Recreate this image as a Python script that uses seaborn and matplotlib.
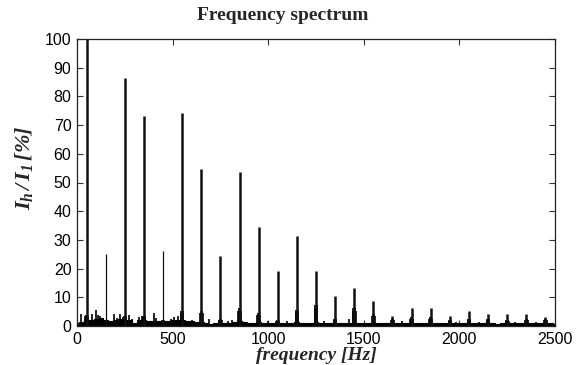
import numpy as np
import pandas as pd
import matplotlib
matplotlib.use("Agg")
import matplotlib.pyplot as plt
import seaborn as sns

# ---- data ----
harm_freq = [50, 150, 250, 350, 450, 550, 650, 750, 850, 950, 1050, 1150, 1250,
             1350, 1450, 1550, 1650, 1750, 1850, 1950, 2050, 2150, 2250, 2350, 2450]
harm_amp = [100, 25, 86.5, 73.3, 26, 74.1, 54.6, 24.5, 53.7, 34.4, 19.0, 31.5, 19.0,
            10.4, 13.3, 8.7, 3.5, 6.3, 6.1, 3.5, 5.2, 4.2, 4.2, 4.2, 3.0]
harm_thin = [150, 450]
skirt_amp = [4.0, 1.5, 3.5, 3.5, 2.0, 5.3, 5.3, 2.5, 6.2, 4.4, 2.0, 5.6, 7.3,
             2.5, 6.2, 4.2, 2.5, 3.0, 3.0, 2.0, 2.5, 2.3, 2.0, 2.6, 2.3]

floor_freq = list(range(0, 2501, 25))
floor_amp = [1.2, 1.5, 2.0, 2.2, 2.6, 2.8, 2.0, 1.8, 2.2, 2.4,
             2.0, 2.2, 1.2, 2.0, 2.0, 1.6, 1.8, 1.8, 1.4, 1.6,
             2.0, 2.2, 2.0, 1.8, 1.6, 1.4, 1.5, 1.2, 0.8, 1.0,
             1.2, 1.0, 1.2, 1.4, 1.6, 1.3, 1.0, 1.1, 1.3, 1.2,
             0.9, 1.0, 1.2, 0.9, 1.0, 1.1, 1.3, 1.0, 0.9, 1.0,
             1.3, 1.1, 1.0, 1.2, 1.0, 0.9, 1.0, 1.2, 1.1, 1.0,
             1.1, 1.2, 1.0, 0.9, 1.1, 1.0, 1.0, 1.2, 1.1, 0.9,
             1.0, 1.1, 1.2, 1.0, 1.0, 0.9, 1.1, 1.0, 0.8, 1.0,
             1.1, 1.0, 1.1, 0.9, 1.0, 1.0, 1.1, 0.9, 0.8, 1.0,
             1.0, 1.1, 0.9, 1.0, 1.0, 1.1, 0.9, 1.0, 1.0, 0.9, 0.8]

spur_freq = [21, 40, 79, 100, 112, 120, 195, 210, 225, 240, 274, 290, 326, 340,
             401, 415, 490, 505, 527, 600, 690, 745, 790, 810, 1000, 1100, 1290,
             1420, 1700, 1980, 2100, 2290, 2400]
spur_amp = [4.2, 2.6, 4.2, 5.6, 4.0, 3.4, 4.2, 2.8, 4.2, 3.0, 3.7, 2.6, 3.1, 3.5,
            4.6, 2.8, 2.6, 3.0, 3.6, 2.2, 2.4, 2.2, 1.8, 2.2, 1.8, 1.8, 1.6,
            2.6, 1.7, 1.5, 1.4, 1.4, 1.5]

x_ticks = [0, 500, 1000, 1500, 2000, 2500]
y_ticks = [0, 10, 20, 30, 40, 50, 60, 70, 80, 90, 100]

# ---- style ----
sns.set_theme(style="ticks")
plt.rcParams["font.family"] = ["Liberation Sans", "DejaVu Sans"]
plt.rcParams["mathtext.fontset"] = "custom"
plt.rcParams["mathtext.rm"] = "Liberation Serif:italic:bold"
plt.rcParams["mathtext.it"] = "Liberation Serif:italic:bold"
plt.rcParams["mathtext.bf"] = "Liberation Serif:italic:bold"

fig = plt.figure(figsize=(5.77, 3.65), dpi=100)
ax = fig.add_axes([77/577, 1 - 326/365, (555-77)/577, (326-39)/365])

floor_df = pd.DataFrame({"f": floor_freq, "a": floor_amp})
sns.lineplot(data=floor_df, x="f", y="a", ax=ax, color="black", lw=0.8,
             drawstyle="steps-mid")
ax.fill_between(floor_df["f"], 0, floor_df["a"], step="mid", color="black", lw=0)

spur_df = pd.DataFrame({"f": spur_freq, "a": spur_amp})
ax.vlines(spur_df["f"], 0, spur_df["a"], color="black", lw=1.2)

harm_df = pd.DataFrame({"f": harm_freq, "a": harm_amp, "s": skirt_amp})
for off in (-7, -4, 4, 7):
    ax.vlines(harm_df["f"] + off, 0, harm_df["s"] * (0.85 if abs(off) > 5 else 1.0),
              color="black", lw=1.2)
thick = harm_df[~harm_df["f"].isin(harm_thin)]
thin = harm_df[harm_df["f"].isin(harm_thin)]
ax.vlines(thick["f"], 0, thick["a"], color="#111111", lw=1.8)
ax.vlines(thin["f"], 0, thin["a"], color="#111111", lw=0.9)

ax.set_xlim(0, 2500)
ax.set_ylim(0, 100)
ax.set_xticks(x_ticks)
ax.set_yticks(y_ticks)
ax.tick_params(direction="in", length=4, width=0.8, top=True, right=True,
               labelsize=11.5, colors="#333333", labelcolor="black", pad=4)
for s in ax.spines.values():
    s.set_color("#222222")
    s.set_linewidth(0.9)

ax.set_xlabel("frequency [Hz]", family="Liberation Serif", style="italic",
              weight="bold", fontsize=14, labelpad=0)
ax.set_ylabel(r"$I_h\,/\,I_1\,[\%]$", fontsize=16)
ax.yaxis.set_label_coords(-0.088, 0.55)
fig.text(283/577, 1 - 15/365, "Frequency spectrum", family="Liberation Serif",
         weight="bold", fontsize=14, ha="center", va="center")

fig.savefig("out.png", dpi=100)
